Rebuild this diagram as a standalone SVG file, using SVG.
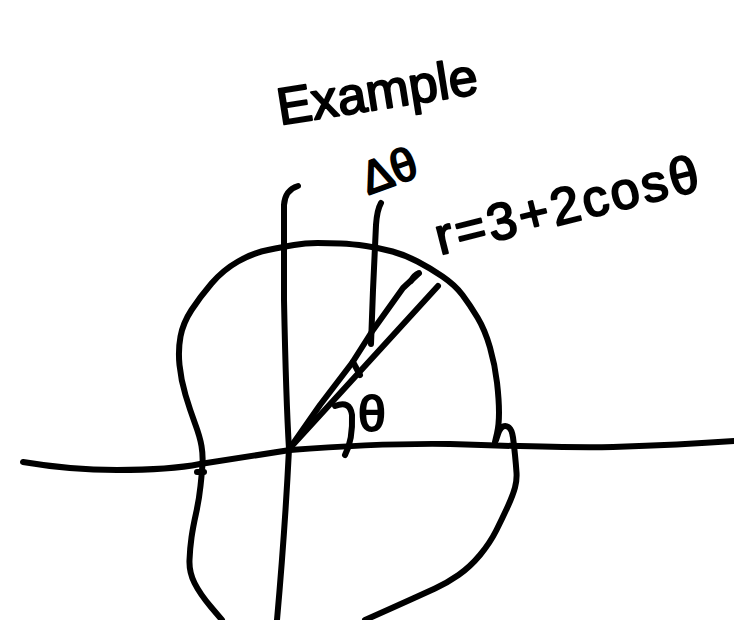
<svg xmlns="http://www.w3.org/2000/svg" width="734" height="620" viewBox="0 0 734 620">
<style>
.s{fill:none;stroke:#000;stroke-width:6;stroke-linecap:round;stroke-linejoin:round}
.t{font-family:"Liberation Sans","DejaVu Sans",sans-serif;fill:#000;stroke:#000;stroke-width:2;stroke-linejoin:round}
</style>
<rect width="734" height="620" fill="#fff"/>
<g id="axes">
<path class="s" d="M23,462 Q70,470 117,470 Q170,470 200,464 L290,450 Q380,443 450,444 Q560,448 613,447 Q680,445 734,441"/>
<path class="s" d="M298,186 Q285,190 284,205 L284,300 Q286,400 289,449 Q285,530 277,620"/>
</g>
<g id="curve">
<path class="s" d="M222,620 L211,607 Q200,594 194.5,583 Q189,572 189.5,560 Q190,548 191.5,537.5 Q193,527 196,513.5 Q199,500 200.5,486 Q202,472 202.5,463.5 Q203,455 201.5,446 Q200,437 195,423.5 Q190,410 185.5,395 Q181,380 179.5,365 Q178,350 180.5,336.5 Q183,323 191.5,310 Q200,297 211.5,283.5 Q223,270 238,261.5 Q253,253 268,250 Q283,247 294,245 Q305,243 317.5,243 Q330,243 341,243.5 Q352,244 366,246 Q380,248 392.5,251.5 Q405,255 417.5,261.5 Q430,268 442.5,276.5 Q455,285 462.5,295 Q470,305 477.5,317.5 Q485,330 490,347.5 Q495,365 497,382.5 Q499,400 499,412.5 Q499,425 497,433.5 L495,442"/>
<path class="s" d="M496,440 L498,434 Q500,428 503,426.5 Q506,425 509,427.5 Q512,430 513,437.5 Q514,445 515,455 Q516,465 516.5,472.5 Q517,480 515,487.5 Q513,495 508,506 Q503,517 496.5,530 Q490,543 480,555 Q470,567 458.5,575 Q447,583 435,588.5 Q423,594 413,598.5 Q403,603 393,607.5 Q383,612 374,616 L365,620"/>
<path class="s" d="M197,472 L204,472"/>
</g>
<g id="rays">
<path class="s" d="M290,448 L438,286"/>
<polyline class="s" points="290,448 320,405 352,363 373,330 403,288 418,274"/>
<path class="s" d="M411,281 Q414,275 419,273"/>
<path class="s" d="M353,362 L360,375"/>
<path class="s" d="M381,203 Q377,210 376,225 L373,290 L371,344"/>
<path class="s" d="M335,406 Q350,400 352,415 Q353,440 345,455"/>
</g>
<g id="labels">
<text class="t" font-size="52" transform="translate(280,125) rotate(-9)">Example</text>
<text class="t" font-size="46" transform="translate(368,195) rotate(-20)">Δθ</text>
<text class="t" font-size="52" letter-spacing="3" transform="translate(440,255) rotate(-14)">r=3+2cosθ</text>
<text class="t" font-size="50" x="358" y="431">θ</text>
</g>
</svg>
